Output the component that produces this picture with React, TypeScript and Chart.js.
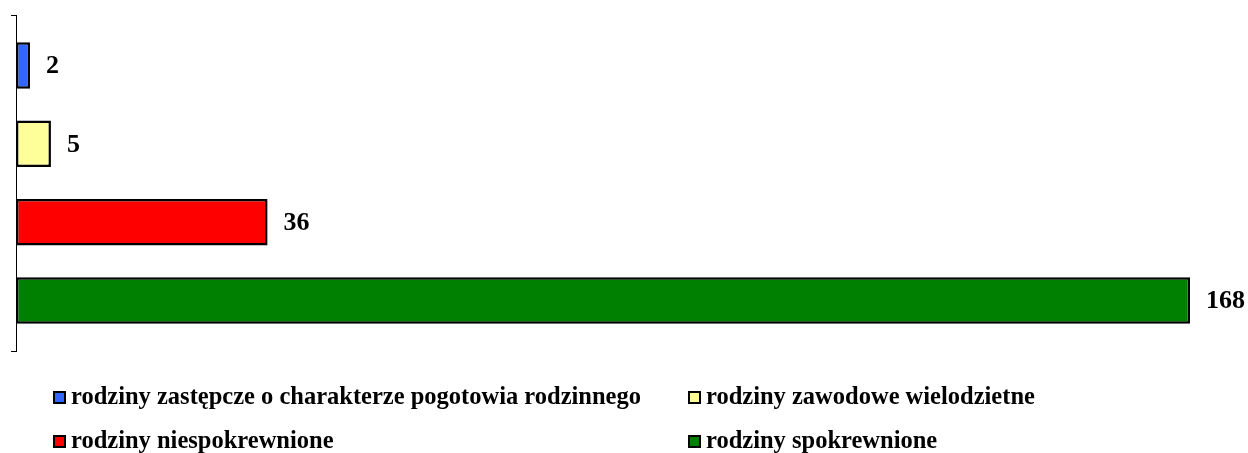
import React, { useEffect, useRef } from "react";
import { Chart, registerables } from "chart.js";

Chart.register(...registerables);

const categories = [""];
const seriesNames = [
  "rodziny zastępcze o charakterze pogotowia rodzinnego",
  "rodziny zawodowe wielodzietne",
  "rodziny niespokrewnione",
  "rodziny spokrewnione",
];
const seriesValues = [2, 5, 36, 168];
const seriesColors = ["#3366FF", "#FFFF99", "#FF0000", "#008000"];

const FONT = '"Liberation Serif", "Times New Roman", serif';

const valueLabels = {
  id: "valueLabels",
  afterDatasetsDraw(chart: any) {
    const ctx = chart.ctx;
    ctx.save();
    ctx.font = `bold 26px ${FONT}`;
    ctx.fillStyle = "#000";
    ctx.textAlign = "left";
    ctx.textBaseline = "middle";
    chart.data.datasets.forEach((ds: any, i: number) => {
      const meta = chart.getDatasetMeta(i);
      meta.data.forEach((el: any, j: number) => {
        ctx.fillText(String(ds.data[j]), el.x + 16, el.y + 1);
      });
    });
    ctx.restore();
  },
};

const customLegend = {
  id: "customLegend",
  afterDraw(chart: any) {
    const ctx = chart.ctx;
    ctx.save();
    ctx.font = `bold 24.5px ${FONT}`;
    ctx.textAlign = "left";
    ctx.textBaseline = "alphabetic";
    const cols = [53, 688];
    const rows = [404, 448];
    const box = 13;
    chart.data.datasets.forEach((ds: any, i: number) => {
      const x = cols[i % 2];
      const yb = rows[Math.floor(i / 2)];
      ctx.fillStyle = ds.backgroundColor;
      ctx.fillRect(x, yb - box, box, box);
      ctx.strokeStyle = "#000";
      ctx.lineWidth = 2;
      ctx.strokeRect(x + 1, yb - box + 1, box - 2, box - 2);
      ctx.fillStyle = "#000";
      ctx.fillText(ds.label, x + 18, yb);
    });
    ctx.restore();
  },
};

export default function App() {
  const ref = useRef<HTMLCanvasElement>(null);
  useEffect(() => {
    document.body.style.margin = "0";
    const chart = new Chart(ref.current!, {
      type: "bar",
      data: {
        labels: categories,
        datasets: seriesNames.map((name, i) => ({
          label: name,
          data: [seriesValues[i]],
          backgroundColor: seriesColors[i],
          borderColor: "#000",
          borderWidth: 2.5,
          borderSkipped: false,
          categoryPercentage: 0.9325,
          barPercentage: 0.594,
        })),
      },
      options: {
        indexAxis: "y",
        animation: false,
        responsive: false,
        maintainAspectRatio: false,
        layout: { padding: { left: 11, top: 15, bottom: 102, right: 9 } },
        plugins: { legend: { display: false }, tooltip: { enabled: false } },
        scales: {
          x: { display: false, min: 0, max: 175 },
          y: {
            type: "category",
            offset: true,
            ticks: { display: false },
            grid: {
              offset: true,
              drawOnChartArea: false,
              drawTicks: true,
              tickLength: 5,
              color: "#000",
              lineWidth: 1,
            },
            border: { display: true, color: "#000", width: 1 },
          },
        },
      },
      plugins: [valueLabels, customLegend],
    });
    return () => chart.destroy();
  }, []);
  return <canvas ref={ref} width={1248} height={453} style={{ display: "block" }} />;
}
